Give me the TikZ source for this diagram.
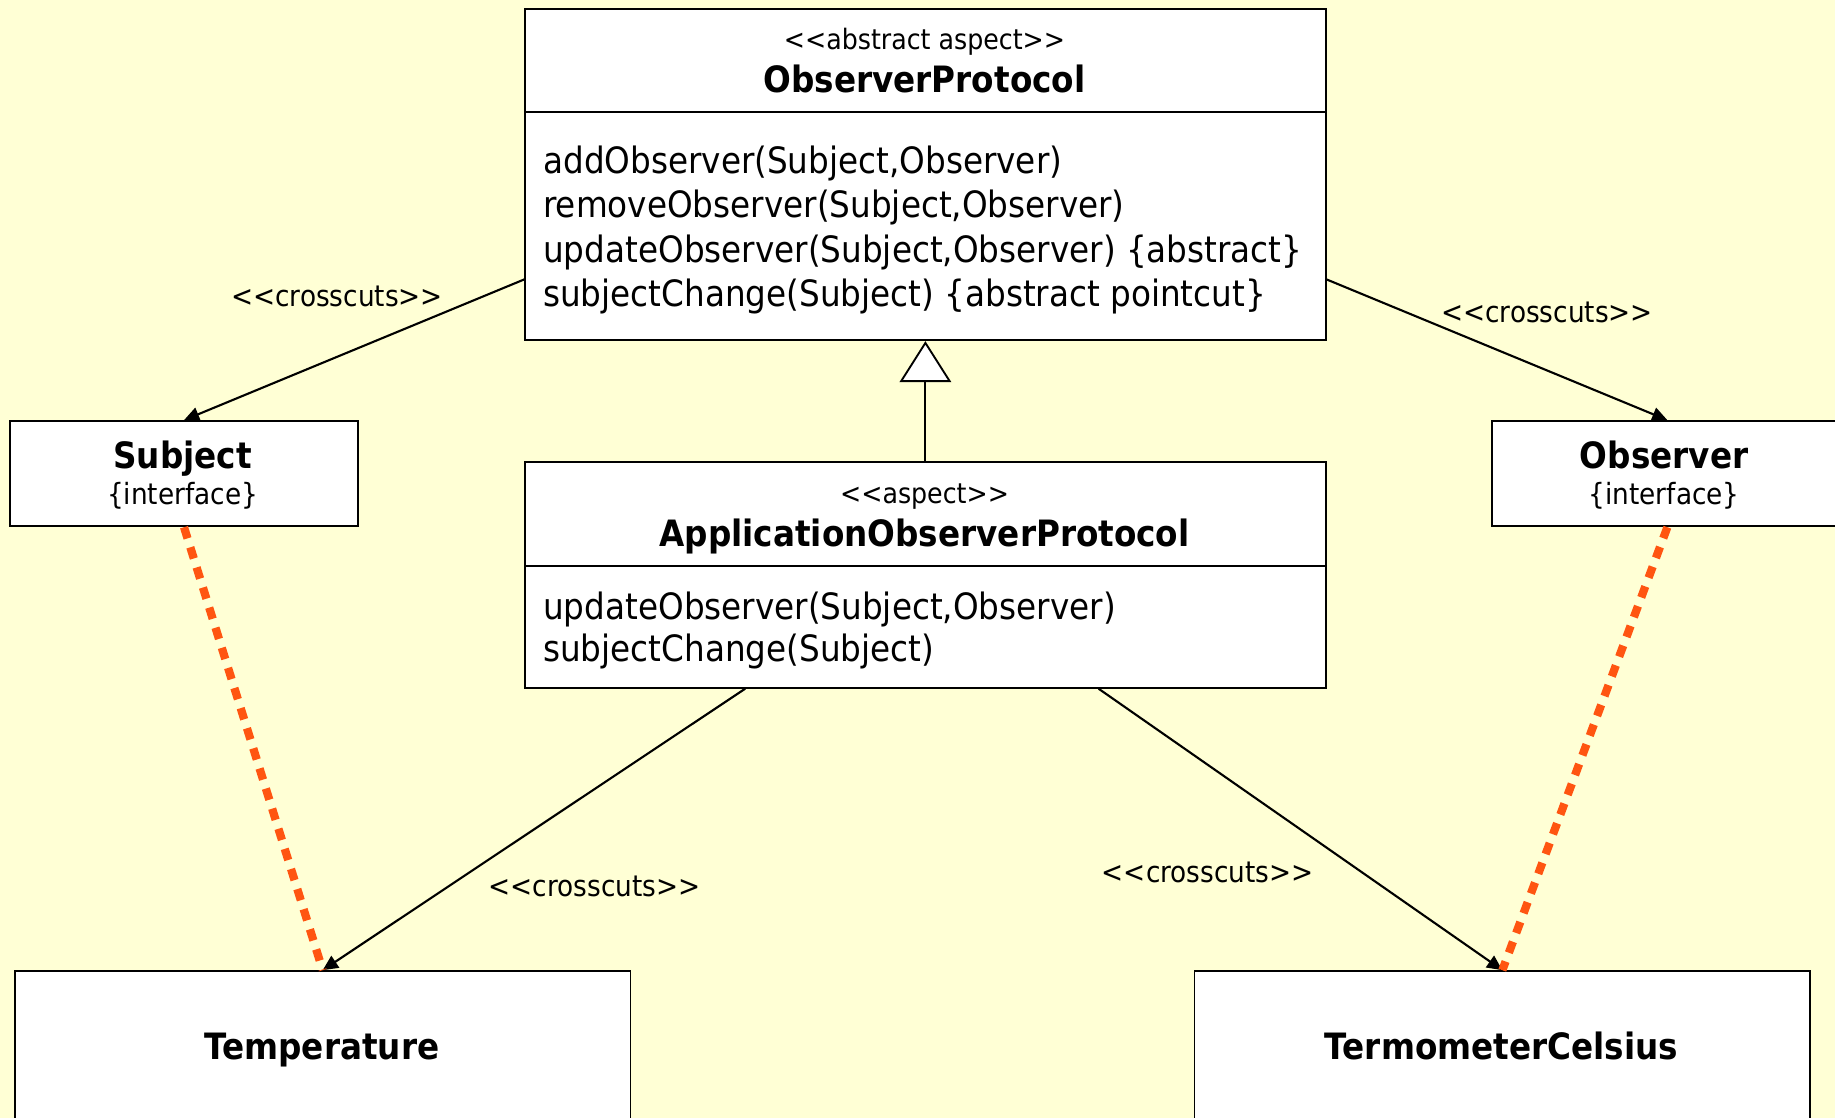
\documentclass[tikz,border=0pt]{standalone}
\usepackage{fontspec}
\setmainfont{DejaVu Sans}[FakeStretch=0.9]
\usetikzlibrary{arrows.meta}
\definecolor{bgyellow}{RGB}{255,255,213}
\definecolor{linkorange}{RGB}{255,85,17}
% keep pairs of angle brackets from turning into guillemets
\newcommand\ltlt{<\kern0pt<}
\newcommand\gtgt{>\kern0pt>}
\begin{document}
\begin{tikzpicture}[x=1pt,y=-1pt,
  umlbox/.style={draw=black, line width=1.5pt, fill=white, inner sep=0pt, anchor=north west},
  stereo/.style={font=\fontsize{24}{28}\selectfont, anchor=base, inner sep=0pt},
  classname/.style={font=\fontsize{31}{36}\selectfont\bfseries, anchor=base, inner sep=0pt},
  member/.style={font=\fontsize{31}{38}\selectfont, anchor=base west, inner sep=0pt},
  tagline/.style={font=\fontsize{25}{30}\selectfont, anchor=base, inner sep=0pt},
  crosslbl/.style={font=\fontsize{25}{30}\selectfont, anchor=base, inner sep=0pt},
  divider/.style={line width=1.6pt},
  assoc/.style={line width=1.8pt, -{Triangle[length=13pt,width=12pt]}},
  realize/.style={draw=linkorange, line width=7pt, dash pattern=on 10pt off 8pt},
  generalize/.style={line width=1.6pt, -{Triangle[open, length=35pt, width=44pt, fill=white, line width=1.6pt]}}
]
\useasboundingbox (0,0) rectangle (1568,955);
\clip (0,0) rectangle (1568,955);
\fill[bgyellow] (0,0) rectangle (1568,955);

% class boxes
\node[umlbox, minimum width=684pt, minimum height=283pt] (op) at (448,7) {};
\node[umlbox, minimum width=684pt, minimum height=193pt] (app) at (448,394) {};
\node[umlbox, minimum width=297pt, minimum height=90pt] (sub) at (8,359) {};
\node[umlbox, minimum width=300pt, minimum height=90pt] (obs) at (1274,359) {};
\node[umlbox, minimum width=526pt, minimum height=200pt] (temp) at (12,829) {};
\node[umlbox, minimum width=526pt, minimum height=200pt] (therm) at (1020,829) {};

% compartment dividers
\draw[divider] ([yshift=-89pt]op.north west) -- ([yshift=-89pt]op.north east);
\draw[divider] ([yshift=-90pt]app.north west) -- ([yshift=-90pt]app.north east);

% ObserverProtocol
\node[stereo] (opStereo) at (790,42) {\ltlt abstract aspect\gtgt};
\node[classname] (opName) at (790,79) {ObserverProtocol};
\node[member] (opM1) at (464,148) {addObserver(Subject,Observer)};
\node[member] (opM2) at (464,186) {removeObserver(Subject,Observer)};
\node[member] (opM3) at (464,224) {updateObserver(Subject,Observer) \{abstract\}};
\node[member] (opM4) at (464,262) {subjectChange(Subject) \{abstract pointcut\}};

% ApplicationObserverProtocol
\node[stereo] (appStereo) at (790,430) {\ltlt aspect\gtgt};
\node[classname] (appName) at (790,467) {ApplicationObserverProtocol};
\node[member] (appM1) at (464,529) {updateObserver(Subject,Observer)};
\node[member] (appM2) at (464,565) {subjectChange(Subject)};

% interfaces
\node[classname] (subName) at (156,400) {Subject};
\node[tagline] (subTag) at (156,431) {\{interface\}};
\node[classname] (obsName) at (1422,400) {Observer};
\node[tagline] (obsTag) at (1422,431) {\{interface\}};

% concrete classes
\node[classname] (tempName) at (275,905) {Temperature};
\node[classname] (thermName) at (1283,905) {TermometerCelsius};

% generalization
\draw[generalize] (app.north) -- (op.south);

% crosscutting associations
\draw[assoc] ([yshift=-89.5pt]op.west) -- (sub.north);
\draw[assoc] ([yshift=-89.5pt]op.east) -- (obs.north);
\draw[assoc] ([xshift=-154pt]app.south) -- (temp.north);
\draw[assoc] ([xshift=148pt]app.south) -- (therm.north);

% realization links
\draw[realize] (sub.south) -- (temp.north);
\draw[realize] (obs.south) -- (therm.north);

% association labels
\node[crosslbl] (lblA) at (288,262) {\ltlt crosscuts\gtgt};
\node[crosslbl] (lblB) at (1322,276) {\ltlt crosscuts\gtgt};
\node[crosslbl] (lblC) at (508,766) {\ltlt crosscuts\gtgt};
\node[crosslbl] (lblD) at (1032,754) {\ltlt crosscuts\gtgt};
\end{tikzpicture}
\end{document}
